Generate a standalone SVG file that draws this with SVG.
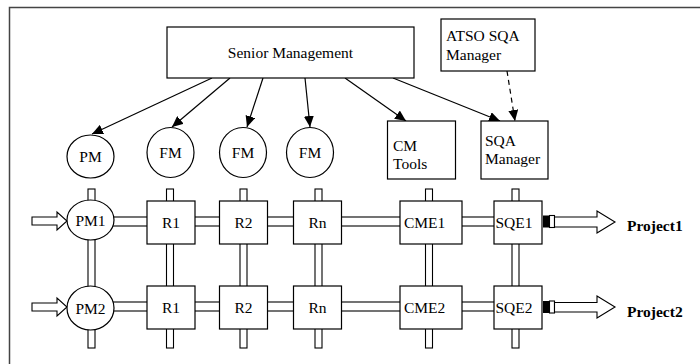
<svg xmlns="http://www.w3.org/2000/svg" width="700" height="364" viewBox="0 0 700 364">
<defs>
<style>
.box{fill:#fff;stroke:#000;stroke-width:1.2}
.pipe{fill:#fff;stroke:#000;stroke-width:1.1}
.t{font-family:"Liberation Serif","Times New Roman",serif;font-size:15.5px;fill:#000}
.c{text-anchor:middle}
.b{font-weight:bold}
.edge{stroke:#000;stroke-width:1.2;fill:none;marker-end:url(#ah)}
.dash{stroke-dasharray:5,4}
</style>
<marker id="ah" markerUnits="userSpaceOnUse" markerWidth="12" markerHeight="10" refX="11" refY="5" orient="auto">
<path d="M0,0 L11,5 L0,10 Z" fill="#000"/>
</marker>
</defs>
<rect x="9.5" y="7.5" width="720" height="380" fill="#fff" stroke="#444" stroke-width="1.5"/>

<g id="connectors">
<line class="edge" x1="212" y1="78" x2="92" y2="134"/>
<line class="edge" x1="230" y1="78" x2="172" y2="127"/>
<line class="edge" x1="263" y1="78" x2="247" y2="127"/>
<line class="edge" x1="305" y1="78" x2="310" y2="127"/>
<line class="edge" x1="345" y1="78" x2="406" y2="121"/>
<line class="edge" x1="393" y1="78" x2="500" y2="121"/>
<line class="edge dash" x1="507" y1="71" x2="515" y2="121"/>

<!-- top stubs -->
<rect class="pipe" x="88" y="189" width="7" height="14"/>
<rect class="pipe" x="166.5" y="189" width="7" height="14"/>
<rect class="pipe" x="240" y="189" width="7" height="14"/>
<rect class="pipe" x="315" y="189" width="7" height="14"/>
<rect class="pipe" x="425.5" y="189" width="7" height="14"/>
<rect class="pipe" x="512" y="189" width="7" height="14"/>
<!-- vertical between rows -->
<rect class="pipe" x="88" y="236" width="7" height="54"/>
<rect class="pipe" x="166.5" y="242" width="7" height="46"/>
<rect class="pipe" x="240" y="242" width="7" height="46"/>
<rect class="pipe" x="315" y="242" width="7" height="46"/>
<rect class="pipe" x="425.5" y="242" width="7" height="46"/>
<rect class="pipe" x="512" y="242" width="7" height="46"/>
<!-- bottom stubs -->
<rect class="pipe" x="88" y="325" width="7" height="23"/>
<rect class="pipe" x="166.5" y="327" width="7" height="21"/>
<rect class="pipe" x="240" y="327" width="7" height="21"/>
<rect class="pipe" x="315" y="327" width="7" height="21"/>
<rect class="pipe" x="425.5" y="327" width="7" height="21"/>
<rect class="pipe" x="512" y="327" width="7" height="21"/>
<!-- horizontal row 1 -->
<rect class="pipe" x="108" y="217" width="41" height="9"/>
<rect class="pipe" x="193" y="217" width="28" height="9"/>
<rect class="pipe" x="266" y="217" width="29" height="9"/>
<rect class="pipe" x="340" y="217" width="62" height="9"/>
<rect class="pipe" x="460" y="217" width="36" height="9"/>
<!-- horizontal row 2 -->
<rect class="pipe" x="108" y="302" width="41" height="9"/>
<rect class="pipe" x="193" y="302" width="28" height="9"/>
<rect class="pipe" x="266" y="302" width="29" height="9"/>
<rect class="pipe" x="340" y="302" width="62" height="9"/>
<rect class="pipe" x="460" y="302" width="36" height="9"/>
<!-- input arrows -->
<polygon class="pipe" points="32,217 57,217 57,212 67,221 57,230 57,225 32,225"/>
<polygon class="pipe" points="32,303 57,303 57,298 67,307 57,316 57,311 32,311"/>
<!-- output arrows -->
<rect x="543" y="215.5" width="6.5" height="12" fill="#000"/>
<rect class="pipe" x="549.5" y="215.5" width="5" height="12"/>
<polygon class="pipe" points="554.5,217 597,217 597,211 615,222 597,233 597,227 554.5,227"/>
<rect x="543" y="301" width="6.5" height="12" fill="#000"/>
<rect class="pipe" x="549.5" y="301" width="5" height="12"/>
<polygon class="pipe" points="554.5,302.5 597,302.5 597,296 615,307 597,318 597,312 554.5,312"/>
</g>

<g id="senior"><rect class="box" x="167" y="27" width="247" height="51"/><text class="t c" x="290.5" y="58">Senior Management</text></g>
<g id="atso"><rect class="box" x="441" y="19" width="94" height="52"/><text class="t" x="446" y="41">ATSO SQA</text><text class="t" x="446" y="60">Manager</text></g>
<g id="pm"><ellipse class="box" cx="90.5" cy="156.5" rx="23.5" ry="21.5"/><text class="t c" x="90.5" y="162">PM</text></g>
<g id="fm1"><ellipse class="box" cx="170.5" cy="152.5" rx="23.5" ry="25"/><text class="t c" x="170.5" y="158">FM</text></g>
<g id="fm2"><ellipse class="box" cx="243" cy="152.5" rx="23.5" ry="25"/><text class="t c" x="243" y="158">FM</text></g>
<g id="fm3"><ellipse class="box" cx="310" cy="152.5" rx="23.5" ry="25"/><text class="t c" x="310" y="158">FM</text></g>
<g id="cmtools"><rect class="box" x="387.5" y="121" width="68" height="58"/><text class="t" x="393" y="151">CM</text><text class="t" x="393" y="169">Tools</text></g>
<g id="sqamgr"><rect class="box" x="481" y="121" width="67" height="58"/><text class="t" x="485" y="146">SQA</text><text class="t" x="485" y="164">Manager</text></g>

<g id="pm1"><ellipse class="box" cx="90.5" cy="220" rx="23.5" ry="20"/><text class="t c" x="90.5" y="226">PM1</text></g>
<g id="r1a"><rect class="box" x="147" y="201" width="48" height="43"/><text class="t c" x="171" y="228">R1</text></g>
<g id="r2a"><rect class="box" x="219.5" y="201" width="48" height="43"/><text class="t c" x="243.5" y="228">R2</text></g>
<g id="rna"><rect class="box" x="293.5" y="201" width="48" height="43"/><text class="t c" x="317.5" y="228">Rn</text></g>
<g id="cme1"><rect class="box" x="400" y="201" width="62" height="43"/><text class="t" x="404" y="228">CME1</text></g>
<g id="sqe1"><rect class="box" x="494" y="201" width="48" height="43"/><text class="t" x="495.5" y="228">SQE1</text></g>

<g id="pm2"><ellipse class="box" cx="90.5" cy="308" rx="23.5" ry="22"/><text class="t c" x="90.5" y="314">PM2</text></g>
<g id="r1b"><rect class="box" x="147" y="286" width="48" height="43"/><text class="t c" x="171" y="313">R1</text></g>
<g id="r2b"><rect class="box" x="219.5" y="286" width="48" height="43"/><text class="t c" x="243.5" y="313">R2</text></g>
<g id="rnb"><rect class="box" x="293.5" y="286" width="48" height="43"/><text class="t c" x="317.5" y="313">Rn</text></g>
<g id="cme2"><rect class="box" x="400" y="286" width="62" height="43"/><text class="t" x="404" y="313">CME2</text></g>
<g id="sqe2"><rect class="box" x="494" y="286" width="48" height="43"/><text class="t" x="495.5" y="313">SQE2</text></g>

<g id="project1"><text class="t b" x="627" y="231">Project1</text></g>
<g id="project2"><text class="t b" x="627" y="317">Project2</text></g>
</svg>
